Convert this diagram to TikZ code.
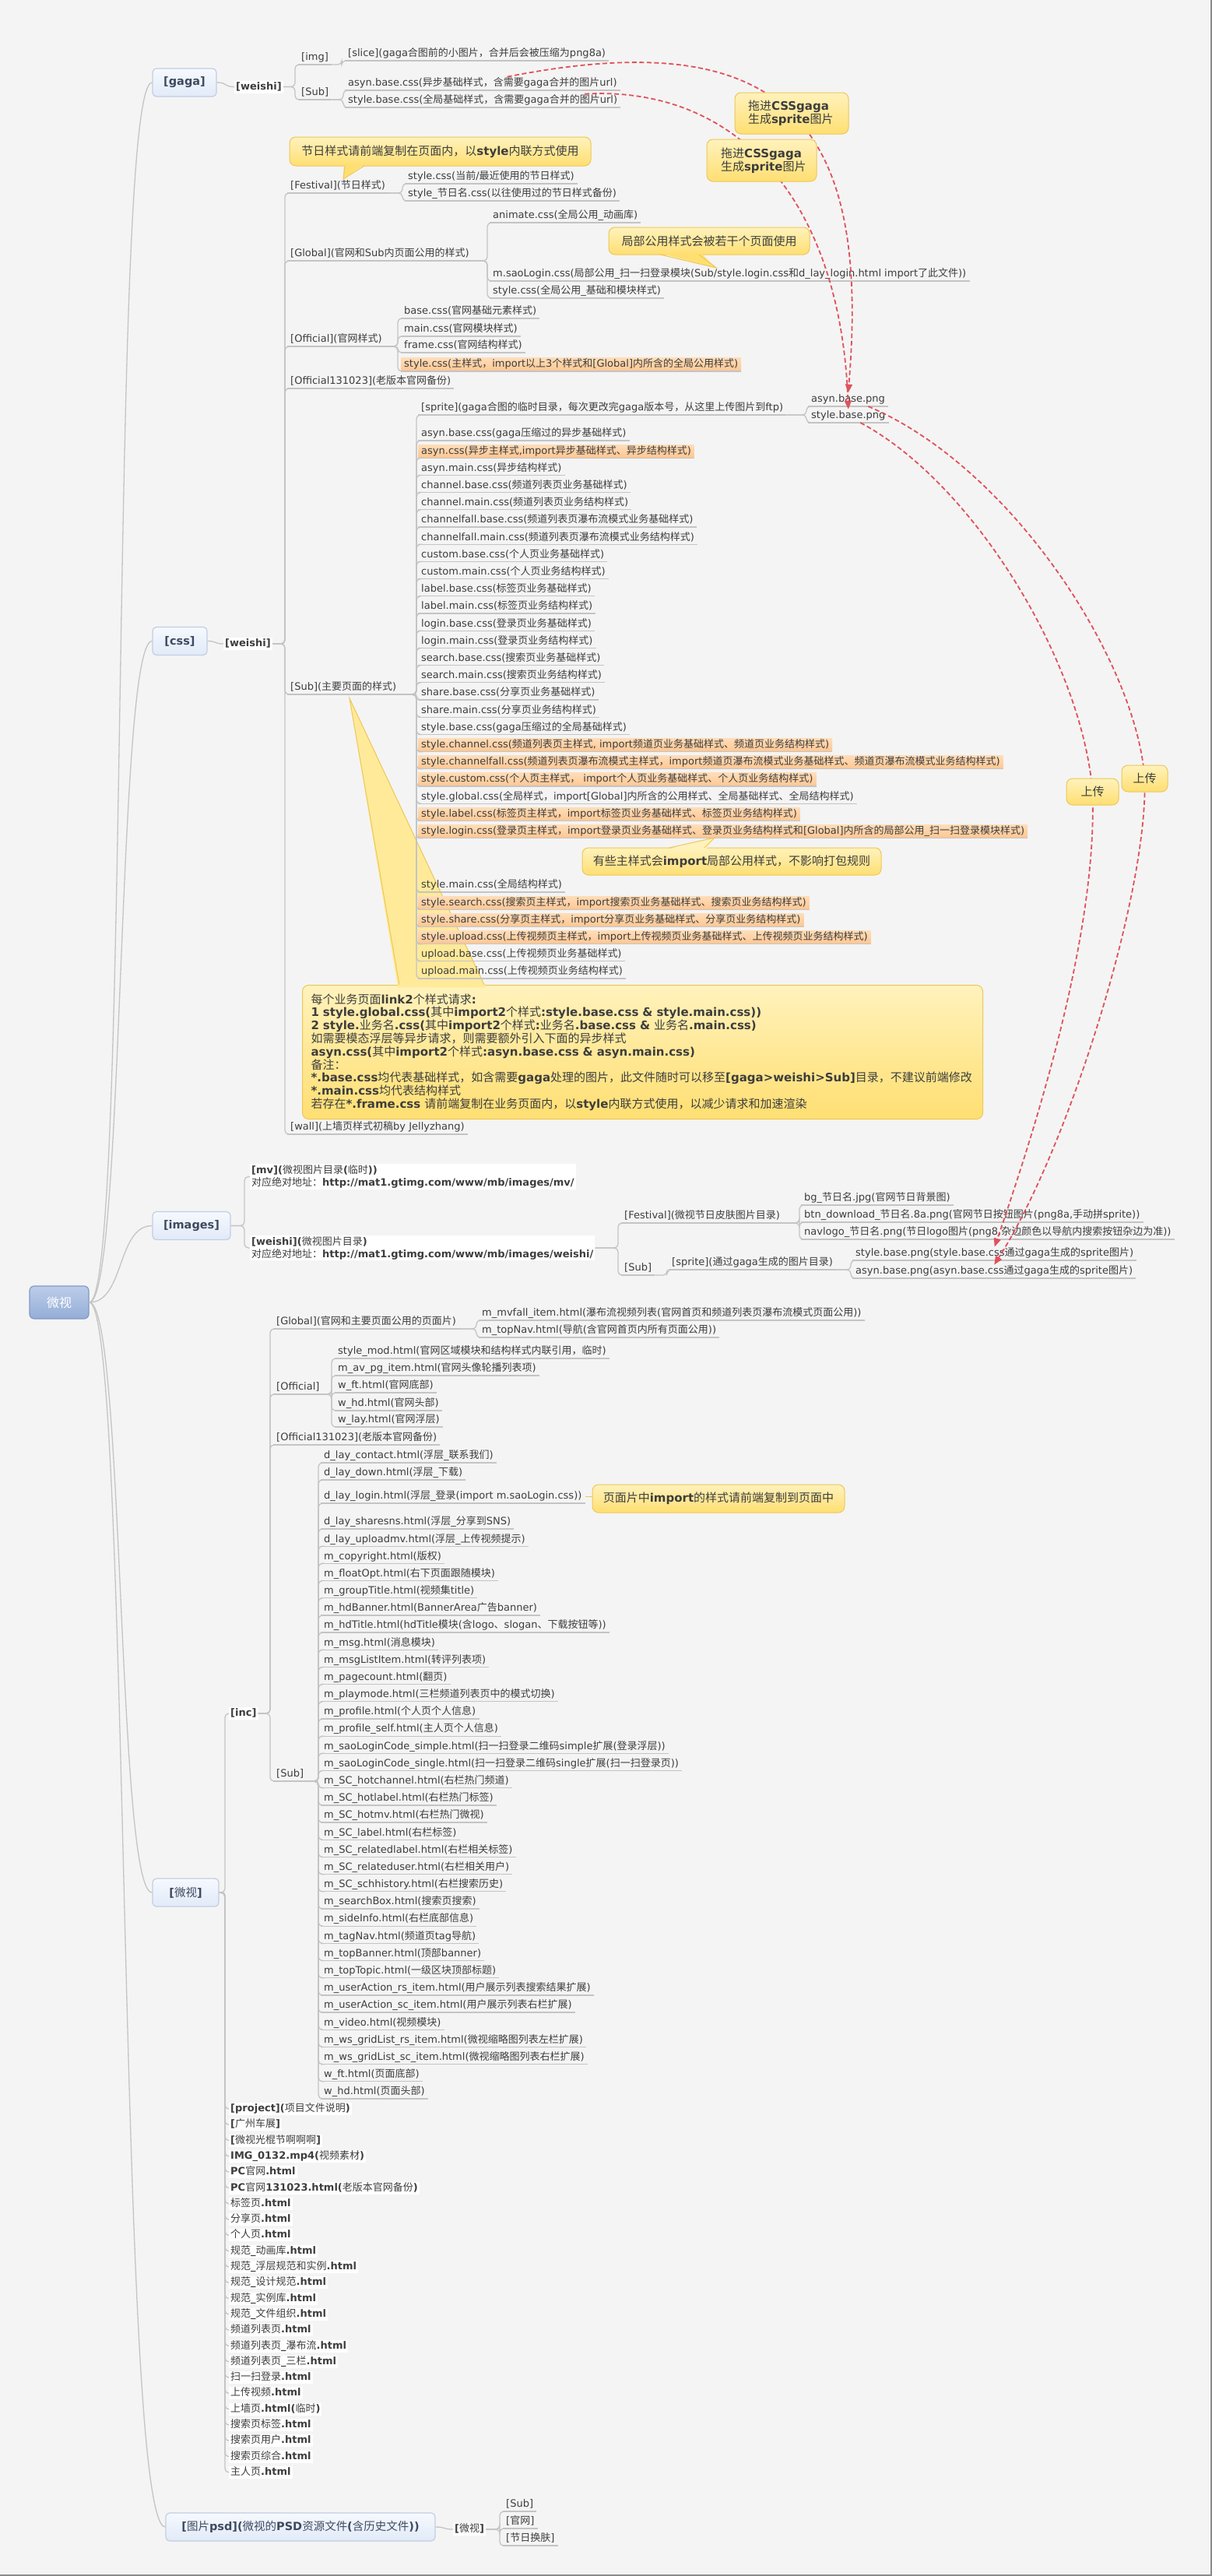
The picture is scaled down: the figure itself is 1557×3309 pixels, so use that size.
\documentclass[tikz,border=0pt]{standalone}
\usepackage{fontspec}
\setmainfont{DejaVu Sans}
\newfontfamily\cjkfam{Noto Sans CJK SC}[BoldFont={Noto Sans CJK SC}]
\usetikzlibrary{arrows.meta,calc}

% Latin text in DejaVu Sans, CJK text switched to Noto Sans CJK automatically
\XeTeXinterchartokenstate=1
\newcount\chidx
\chidx="20 \loop\XeTeXcharclass\chidx=0 \advance\chidx by 1 \ifnum\chidx<"3000 \repeat
\chidx="3000 \loop\XeTeXcharclass\chidx=1 \advance\chidx by 1 \ifnum\chidx<"3040 \repeat
\chidx="4E00 \loop\XeTeXcharclass\chidx=1 \advance\chidx by 1 \ifnum\chidx<"A000 \repeat
\chidx="FF00 \loop\XeTeXcharclass\chidx=1 \advance\chidx by 1 \ifnum\chidx<"FFF0 \repeat
\XeTeXinterchartoks 0 1 = {\cjkfam}
\XeTeXinterchartoks 4095 1 = {\cjkfam}
\XeTeXinterchartoks 1 0 = {\rmfamily}
\XeTeXinterchartoks 1 4095 = {\rmfamily}

\definecolor{bgc}{HTML}{F4F4F4}
\definecolor{bdc}{HTML}{8C8C8C}
\definecolor{txt}{HTML}{3D3D3D}
\definecolor{lnc}{HTML}{C4C4C4}
\definecolor{hlt}{HTML}{FFDDB8}
\definecolor{hlb}{HTML}{FFC692}
\definecolor{mbt}{HTML}{F6F9FE}
\definecolor{mbb}{HTML}{E1EAF8}
\definecolor{mbd}{HTML}{C2CEE2}
\definecolor{mtx}{HTML}{3E4A5E}
\definecolor{rtt}{HTML}{BCCDE9}
\definecolor{rtb}{HTML}{94ADD7}
\definecolor{rtd}{HTML}{819AC4}
\definecolor{cot}{HTML}{FFF2BC}
\definecolor{cob}{HTML}{FFDF72}
\definecolor{cod}{HTML}{EDC757}
\definecolor{wdg}{HTML}{FFEA9A}
\definecolor{relc}{HTML}{E0525C}

\tikzset{
  uline/.style={draw=lnc, line width=1.3pt},
  conn/.style={draw=lnc, line width=1.3pt, rounded corners=5pt},
  leaf/.style={inner xsep=4pt, inner ysep=2pt, text height=10pt, text depth=3pt,
    text=txt, font=\fontsize{13}{15}\selectfont,
    append after command={(\tikzlastnode.south west) edge[uline] (\tikzlastnode.south east)}},
  hl/.style={top color=hlt, bottom color=hlb},
  bnote/.style={fill=white, inner xsep=2pt, inner ysep=1.5pt, text=txt,
    font=\fontsize{13}{16}\selectfont\bfseries},
  one/.style={text height=10pt, text depth=3pt},
  mainbox/.style={rounded corners=5pt, draw=mbd, line width=1.2pt, top color=mbt,
    bottom color=mbb, text=mtx, font=\fontsize{14.5}{17}\selectfont\bfseries,
    minimum height=36pt, inner sep=0pt},
  rootbox/.style={rounded corners=6pt, draw=rtd, line width=1.2pt, top color=rtt,
    bottom color=rtb, text=white, font=\fontsize{16}{18}\selectfont\bfseries,
    minimum width=76pt, minimum height=42pt, inner sep=0pt},
  callout/.style={rounded corners=8pt, draw=cod, line width=1pt, top color=cot,
    bottom color=cob, text=txt, font=\fontsize{15}{17}\selectfont\bfseries, align=left},
  rel/.style={draw=relc, line width=1.8pt, dash pattern=on 6pt off 3.5pt,
    -{Triangle[length=11pt,width=9pt]}},
}

% underlined topic: name, (west x, underline y), text
\newcommand\lf[4][]{\node[leaf,#1,anchor=south west] (#2) at (#3) {#4};}
% css/Sub rows
\newcommand\csrow[3][]{\pgfmathsetmacro\yy{#2<25 ? 566+22.2*(#2-1) : 1146+22.2*(#2-25)}%
  \node[leaf,#1,anchor=south west] (cs#2) at (537,\yy) {#3};}
% elbow connector: from anchor, vertical at x, into target anchor
\newcommand\elb[3]{\path (#2,0) coordinate (ex); \draw[conn] (#1) -| (ex |- #3) -- (#3);}

\begin{document}
\begin{tikzpicture}[x=1pt,y=-1pt]
\useasboundingbox (0,0) rectangle (1557,3309);
\fill[bgc] (0,0) rectangle (1557,3309);
\draw[bdc, line width=2pt] (1556,0) -- (1556,3308) -- (0,3308);

% ---------- note box for the page styles (drawn below the list)
\node[callout, anchor=north west, text width=852pt, minimum height=172pt,
  inner xsep=11pt, inner ysep=4pt, font=\fontsize{15}{16.8}\selectfont\bfseries] (note) at (388,1265)
{每个业务页面link2个样式请求:\\
1 style.global.css(其中import2个样式:style.base.css \& style.main.css))\\
2 style.业务名.css(其中import2个样式:业务名.base.css \& 业务名.main.css)\\
如需要模态浮层等异步请求，则需要额外引入下面的异步样式\\
asyn.css(其中import2个样式:asyn.base.css \& asyn.main.css)\\
备注：\\{}%
*.base.css均代表基础样式，如含需要gaga处理的图片，此文件随时可以移至[gaga>weishi>Sub]目录，不建议前端修改\\{}%
*.main.css均代表结构样式\\
若存在*.frame.css 请前端复制在业务页面内，以style内联方式使用，以减少请求和加速渲染};
\fill[wdg] (449,897) -- (511,1268) -- (624,1268) -- cycle;
\draw[cod, line width=1pt] (513,1265) -- (449,897) -- (622,1265);

% ---------- main topics
\node[rootbox] (root) at (76,1673) {微视};
\node[mainbox, minimum width=82pt] (g) at (237,106) {[gaga]};
\node[mainbox, minimum width=70pt] (c) at (231,823.5) {[css]};
\node[mainbox, minimum width=100pt] (i) at (246,1574.5) {[images]};
\node[mainbox, minimum width=85pt] (w) at (238.5,2431) {[微视]};
\node[mainbox, minimum width=346pt] (p) at (386,3246) {[图片psd](微视的PSD资源文件(含历史文件))};

% ---------- gaga
\node[bnote,one,anchor=west] (gw) at (301,111.5) {[weishi]};
\lf{gimg}{383,83}{[img]}
\lf{gsub}{383,128}{[Sub]}
\lf{gslice}{443,78}{[slice](gaga合图前的小图片，合并后会被压缩为png8a)}
\lf{gasyn}{443,116}{asyn.base.css(异步基础样式，含需要gaga合并的图片url)}
\lf{gstyle}{443,138}{style.base.css(全局基础样式，含需要gaga合并的图片url)}

% ---------- css
\node[bnote,one,anchor=west] (cw) at (287,827) {[weishi]};
\lf{cfest}{369,248}{[Festival](节日样式)}
\lf{cf1}{520,236}{style.css(当前/最近使用的节日样式)}
\lf{cf2}{520,258}{style\_节日名.css(以往使用过的节日样式备份)}
\lf{cglob}{369,335}{[Global](官网和Sub内页面公用的样式)}
\lf{cg1}{629,286}{animate.css(全局公用\_动画库)}
\lf{cg2}{629,361}{m.saoLogin.css(局部公用\_扫一扫登录模块(Sub/style.login.css和d\_lay\_login.html import了此文件))}
\lf{cg3}{629,383}{style.css(全局公用\_基础和模块样式)}
\lf{coff}{369,445}{[Official](官网样式)}
\lf{co1}{515,409}{base.css(官网基础元素样式)}
\lf{co2}{515,432}{main.css(官网模块样式)}
\lf{co3}{515,453}{frame.css(官网结构样式)}
\lf[hl]{co4}{515,477}{style.css(主样式，import以上3个样式和[Global]内所含的全局公用样式)}
\lf{coff2}{369,499}{[Official131023](老版本官网备份)}
\lf{csub}{369,892}{[Sub](主要页面的样式)}
\lf{csp}{537,533}{[sprite](gaga合图的临时目录，每次更改完gaga版本号，从这里上传图片到ftp)}
\lf{csp1}{1038,522}{asyn.base.png}
\lf{csp2}{1038,543}{style.base.png}
\csrow{1}{asyn.base.css(gaga压缩过的异步基础样式)}
\csrow[hl]{2}{asyn.css(异步主样式,import异步基础样式、异步结构样式)}
\csrow{3}{asyn.main.css(异步结构样式)}
\csrow{4}{channel.base.css(频道列表页业务基础样式)}
\csrow{5}{channel.main.css(频道列表页业务结构样式)}
\csrow{6}{channelfall.base.css(频道列表页瀑布流模式业务基础样式)}
\csrow{7}{channelfall.main.css(频道列表页瀑布流模式业务结构样式)}
\csrow{8}{custom.base.css(个人页业务基础样式)}
\csrow{9}{custom.main.css(个人页业务结构样式)}
\csrow{10}{label.base.css(标签页业务基础样式)}
\csrow{11}{label.main.css(标签页业务结构样式)}
\csrow{12}{login.base.css(登录页业务基础样式)}
\csrow{13}{login.main.css(登录页业务结构样式)}
\csrow{14}{search.base.css(搜索页业务基础样式)}
\csrow{15}{search.main.css(搜索页业务结构样式)}
\csrow{16}{share.base.css(分享页业务基础样式)}
\csrow{17}{share.main.css(分享页业务结构样式)}
\csrow{18}{style.base.css(gaga压缩过的全局基础样式)}
\csrow[hl]{19}{style.channel.css(频道列表页主样式, import频道页业务基础样式、频道页业务结构样式)}
\csrow[hl]{20}{style.channelfall.css(频道列表页瀑布流模式主样式，import频道页瀑布流模式业务基础样式、频道页瀑布流模式业务结构样式)}
\csrow[hl]{21}{style.custom.css(个人页主样式， import个人页业务基础样式、个人页业务结构样式)}
\csrow{22}{style.global.css(全局样式，import[Global]内所含的公用样式、全局基础样式、全局结构样式)}
\csrow[hl]{23}{style.label.css(标签页主样式，import标签页业务基础样式、标签页业务结构样式)}
\csrow[hl]{24}{style.login.css(登录页主样式，import登录页业务基础样式、登录页业务结构样式和[Global]内所含的局部公用\_扫一扫登录模块样式)}
\csrow{25}{style.main.css(全局结构样式)}
\csrow[hl]{26}{style.search.css(搜索页主样式，import搜索页业务基础样式、搜索页业务结构样式)}
\csrow[hl]{27}{style.share.css(分享页主样式，import分享页业务基础样式、分享页业务结构样式)}
\csrow[hl]{28}{style.upload.css(上传视频页主样式，import上传视频页业务基础样式、上传视频页业务结构样式)}
\csrow{29}{upload.base.css(上传视频页业务基础样式)}
\csrow{30}{upload.main.css(上传视频页业务结构样式)}
\lf{cwall}{369,1457}{[wall](上墙页样式初稿by Jellyzhang)}

% ---------- images
\node[bnote, anchor=west, align=left] (imv) at (321,1511.5)
  {[mv](微视图片目录(临时))\\对应绝对地址：http://mat1.gtimg.com/www/mb/images/mv/};
\node[bnote, anchor=west, align=left] (iws) at (321,1603)
  {[weishi](微视图片目录)\\对应绝对地址：http://mat1.gtimg.com/www/mb/images/weishi/};
\lf{ifest}{798,1571}{[Festival](微视节日皮肤图片目录)}
\lf{if1}{1029,1548}{bg\_节日名.jpg(官网节日背景图)}
\lf{if2}{1029,1570}{btn\_download\_节日名.8a.png(官网节日按钮图片(png8a,手动拼sprite))}
\lf{if3}{1029,1592}{navlogo\_节日名.png(节日logo图片(png8,杂边颜色以导航内搜索按钮杂边为准))}
\lf{isub}{798,1638}{[Sub]}
\lf{isp}{859,1631}{[sprite](通过gaga生成的图片目录)}
\lf{isp1}{1095,1619}{style.base.png(style.base.css通过gaga生成的sprite图片)}
\lf{isp2}{1095,1642}{asyn.base.png(asyn.base.css通过gaga生成的sprite图片)}

% ---------- weishi project
\node[bnote,one,anchor=west] (winc) at (294,2201) {[inc]};
\lf{wglob}{351,1707}{[Global](官网和主要页面公用的页面片)}
\lf{wg1}{615,1696}{m\_mvfall\_item.html(瀑布流视频列表(官网首页和频道列表页瀑布流模式页面公用))}
\lf{wg2}{615,1718}{m\_topNav.html(导航(含官网首页内所有页面公用))}
\lf{woff}{351,1791}{[Official]}
\lf{wo1}{430,1745}{style\_mod.html(官网区域模块和结构样式内联引用，临时)}
\lf{wo2}{430,1767}{m\_av\_pg\_item.html(官网头像轮播列表项)}
\lf{wo3}{430,1789}{w\_ft.html(官网底部)}
\lf{wo4}{430,1812}{w\_hd.html(官网头部)}
\lf{wo5}{430,1833}{w\_lay.html(官网浮层)}
\lf{woff2}{351,1856}{[Official131023](老版本官网备份)}
\lf{wsub}{351,2288}{[Sub]}
\lf{ws1}{412,1879}{d\_lay\_contact.html(浮层\_联系我们)}
\lf{ws2}{412,1901}{d\_lay\_down.html(浮层\_下载)}
\lf{ws3}{412,1931}{d\_lay\_login.html(浮层\_登录(import m.saoLogin.css))}
\foreach \t [count=\k from 4] in {
 {d\_lay\_sharesns.html(浮层\_分享到SNS)},
 {d\_lay\_uploadmv.html(浮层\_上传视频提示)},
 {m\_copyright.html(版权)},
 {m\_floatOpt.html(右下页面跟随模块)},
 {m\_groupTitle.html(视频集title)},
 {m\_hdBanner.html(BannerArea广告banner)},
 {m\_hdTitle.html(hdTitle模块(含logo、slogan、下载按钮等))},
 {m\_msg.html(消息模块)},
 {m\_msgListItem.html(转评列表项)},
 {m\_pagecount.html(翻页)},
 {m\_playmode.html(三栏频道列表页中的模式切换)},
 {m\_profile.html(个人页个人信息)},
 {m\_profile\_self.html(主人页个人信息)},
 {m\_saoLoginCode\_simple.html(扫一扫登录二维码simple扩展(登录浮层))},
 {m\_saoLoginCode\_single.html(扫一扫登录二维码single扩展(扫一扫登录页))},
 {m\_SC\_hotchannel.html(右栏热门频道)},
 {m\_SC\_hotlabel.html(右栏热门标签)},
 {m\_SC\_hotmv.html(右栏热门微视)},
 {m\_SC\_label.html(右栏标签)},
 {m\_SC\_relatedlabel.html(右栏相关标签)},
 {m\_SC\_relateduser.html(右栏相关用户)},
 {m\_SC\_schhistory.html(右栏搜索历史)},
 {m\_searchBox.html(搜索页搜索)},
 {m\_sideInfo.html(右栏底部信息)},
 {m\_tagNav.html(频道页tag导航)},
 {m\_topBanner.html(顶部banner)},
 {m\_topTopic.html(一级区块顶部标题)},
 {m\_userAction\_rs\_item.html(用户展示列表搜索结果扩展)},
 {m\_userAction\_sc\_item.html(用户展示列表右栏扩展)},
 {m\_video.html(视频模块)},
 {m\_ws\_gridList\_rs\_item.html(微视缩略图列表左栏扩展)},
 {m\_ws\_gridList\_sc\_item.html(微视缩略图列表右栏扩展)},
 {w\_ft.html(页面底部)},
 {w\_hd.html(页面头部)}}
{\pgfmathsetmacro\yy{1964+22.18*(\k-4)}\node[leaf,anchor=south west] (ws\k) at (412,\yy) {\t};}

\foreach \t [count=\k from 0] in {
 {[project](项目文件说明)}, {[广州车展]}, {[微视光棍节啊啊啊]}, {IMG\_0132.mp4(视频素材)},
 {PC官网.html}, {PC官网131023.html(老版本官网备份)}, {标签页.html}, {分享页.html},
 {个人页.html}, {规范\_动画库.html}, {规范\_浮层规范和实例.html}, {规范\_设计规范.html},
 {规范\_实例库.html}, {规范\_文件组织.html}, {频道列表页.html}, {频道列表页\_瀑布流.html},
 {频道列表页\_三栏.html}, {扫一扫登录.html}, {上传视频.html}, {上墙页.html(临时)},
 {搜索页标签.html}, {搜索页用户.html}, {搜索页综合.html}, {主人页.html}}
{\pgfmathsetmacro\yy{2709+20.3*\k}\node[bnote,one,anchor=west] (wp\k) at (294,\yy) {\t};}

% ---------- psd
\node[bnote,one,anchor=west] (pw) at (582,3249) {[微视]};
\lf{pw1}{646,3226}{[Sub]}
\lf{pw2}{646,3248}{[官网]}
\lf{pw3}{646,3270}{[节日换肤]}

% ---------- connectors from the central topic
\draw[conn] (root.east) .. controls (168,1673) and (140,106) .. (g.west);
\draw[conn] (root.east) .. controls (160,1673) and (150,823.5) .. (c.west);
\draw[conn] (root.east) .. controls (160,1673) and (150,1574.5) .. (i.west);
\draw[conn] (root.east) .. controls (160,1673) and (150,2431) .. (w.west);
\draw[conn] (root.east) .. controls (168,1673) and (150,3246) .. (p.west);

% gaga branch
\draw[conn] (g.east) .. controls +(14,0) and +(-14,0) .. (gw.west);
\elb{gw.east}{379}{gimg.south west}
\elb{gw.east}{379}{gsub.south west}
\elb{gimg.south east}{439}{gslice.south west}
\elb{gsub.south east}{441}{gasyn.south west}
\elb{gsub.south east}{441}{gstyle.south west}

% css branch
\draw[conn] (c.east) .. controls +(12,0) and +(-12,0) .. (cw.west);
\foreach \n in {cfest,cglob,coff,coff2,csub,cwall} {\elb{cw.east}{366}{\n.south west}}
\foreach \n in {cf1,cf2} {\elb{cfest.south east}{517}{\n.south west}}
\foreach \n in {cg1,cg2,cg3} {\elb{cglob.south east}{626}{\n.south west}}
\foreach \n in {co1,co2,co3,co4} {\elb{coff.south east}{511}{\n.south west}}
\elb{csub.south east}{535}{csp.south west}
\foreach \k in {1,...,30} {\elb{csub.south east}{535}{cs\k.south west}}
\foreach \n in {csp1,csp2} {\elb{csp.south east}{1036}{\n.south west}}

% images branch
\elb{i.east}{314}{imv.west}
\elb{i.east}{314}{iws.west}
\elb{iws.east}{794}{ifest.south west}
\elb{iws.east}{794}{isub.south west}
\foreach \n in {if1,if2,if3} {\elb{ifest.south east}{1027}{\n.south west}}
\elb{isub.south east}{857}{isp.south west}
\foreach \n in {isp1,isp2} {\elb{isp.south east}{1093}{\n.south west}}

% weishi branch
\elb{w.east}{289}{winc.west}
\foreach \k in {0,...,23} {\elb{w.east}{289}{wp\k.west}}
\foreach \n in {wglob,woff,woff2,wsub} {\elb{winc.east}{347}{\n.south west}}
\foreach \n in {wg1,wg2} {\elb{wglob.south east}{612}{\n.south west}}
\foreach \n in {wo1,wo2,wo3,wo4,wo5} {\elb{woff.south east}{426}{\n.south west}}
\foreach \k in {1,...,37} {\elb{wsub.south east}{409}{ws\k.south west}}

% psd branch
\draw[conn] (p.east) .. controls +(13,0) and +(-13,0) .. (pw.west);
\foreach \n in {pw1,pw2,pw3} {\elb{pw.east}{642}{\n.south west}}

% ---------- callouts
\node[callout, minimum width=387pt, minimum height=37pt] (nf) at (565.5,194.5)
  {节日样式请前端复制在页面内，以style内联方式使用};
\fill[cob] (441,230) -- (442,210) -- (470,210) -- cycle;
\draw[cod, line width=1pt] (443,213) -- (441,230) -- (468,213);

\node[callout, minimum width=258pt, minimum height=35pt] (ng) at (911,309.5)
  {局部公用样式会被若干个页面使用};
\fill[cob] (846,325) -- (900,325) -- (920,344) -- cycle;
\draw[cod, line width=1pt] (848,327) -- (920,344) -- (898,327);

\node[callout, minimum width=384pt, minimum height=35pt] (ns) at (940,1106.5)
  {有些主样式会import局部公用样式，不影响打包规则};
\fill[cot] (858,1091) -- (907,1091) -- (918,1076) -- cycle;
\draw[cod, line width=1pt] (860,1089) -- (918,1076) -- (905,1089);

\node[callout, minimum width=324pt, minimum height=36pt] (np) at (923,1925)
  {页面片中import的样式请前端复制到页面中};
\draw[cod, line width=1.3pt] (ws3.east) -- (ws3.east -| np.west);

% ---------- gaga sprite relationships
\coordinate (upLc) at (1403.5,1017);
\coordinate (upRc) at (1470.5,1000);
\draw[rel] ($(gasyn.north west)!0.59!(gasyn.north east)$) .. controls (1000,30) and (1120,150) .. (csp1.north);
\draw[rel] ($(gstyle.north west)!0.87!(gstyle.north east)$) .. controls (950,110) and (1080,260) .. (csp2.north);
\draw[rel] ($(csp2.south)!0.3!(csp2.south east)$) .. controls (1250,620) and (1390,850) .. (upLc)
  .. controls (1410,1200) and (1330,1450) .. (isp1.north);
\draw[rel] ($(csp1.south)!0.5!(csp1.south east)$) .. controls (1300,600) and (1460,850) .. (upRc)
  .. controls (1475,1150) and (1370,1480) .. (isp2.north);

\node[callout, text width=112pt, inner xsep=17pt, minimum height=53pt] (ra) at (1017,145.5)
  {拖进CSSgaga\\生成sprite图片};
\node[callout, text width=105pt, inner xsep=18pt, minimum height=54pt] (rb) at (978.5,206)
  {拖进CSSgaga\\生成sprite图片};
\node[callout, minimum width=67pt, minimum height=34pt] (upl) at (upLc) {上传};
\node[callout, minimum width=59pt, minimum height=34pt] (upr) at (upRc) {上传};
\end{tikzpicture}
\end{document}
